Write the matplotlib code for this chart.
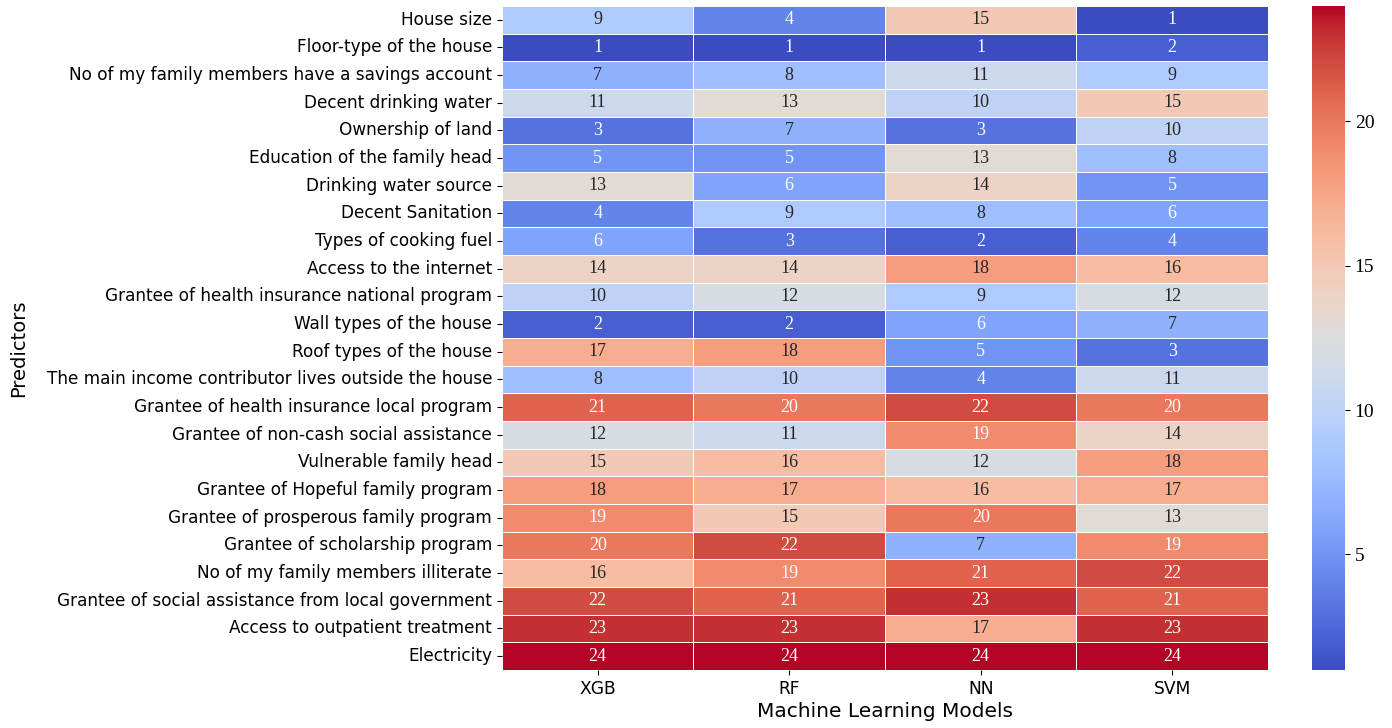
import matplotlib
matplotlib.use("Agg")
import matplotlib.pyplot as plt
import seaborn as sns
import pandas as pd

predictors = [
    "House size",
    "Floor-type of the house",
    "No of my family members have a savings account",
    "Decent drinking water",
    "Ownership of land",
    "Education of the family head",
    "Drinking water source",
    "Decent Sanitation",
    "Types of cooking fuel",
    "Access to the internet",
    "Grantee of health insurance national program",
    "Wall types of the house",
    "Roof types of the house",
    "The main income contributor lives outside the house",
    "Grantee of health insurance local program",
    "Grantee of non-cash social assistance",
    "Vulnerable family head",
    "Grantee of Hopeful family program",
    "Grantee of prosperous family program",
    "Grantee of scholarship program",
    "No of my family members illiterate",
    "Grantee of social assistance from local government",
    "Access to outpatient treatment",
    "Electricity",
]
models = ["XGB", "RF", "NN", "SVM"]

xgb = [9, 1, 7, 11, 3, 5, 13, 4, 6, 14, 10, 2, 17, 8, 21, 12, 15, 18, 19, 20, 16, 22, 23, 24]
rf = [4, 1, 8, 13, 7, 5, 6, 9, 3, 14, 12, 2, 18, 10, 20, 11, 16, 17, 15, 22, 19, 21, 23, 24]
nn = [15, 1, 11, 10, 3, 13, 14, 8, 2, 18, 9, 6, 5, 4, 22, 19, 12, 16, 20, 7, 21, 23, 17, 24]
svm = [1, 2, 9, 15, 10, 8, 5, 6, 4, 16, 12, 7, 3, 11, 20, 14, 18, 17, 13, 19, 22, 21, 23, 24]

df = pd.DataFrame({"XGB": xgb, "RF": rf, "NN": nn, "SVM": svm}, index=predictors)[models]

fig = plt.figure(figsize=(13.92, 7.28), dpi=100)
ax = fig.add_axes([0.3606, 0.0797, 0.5503, 0.9121])
cax = fig.add_axes([0.9425, 0.0797, 0.0237, 0.9121])

sns.heatmap(
    df, ax=ax, cbar_ax=cax, cmap="coolwarm", annot=True, fmt="d",
    linewidths=0.6, linecolor="white",
    annot_kws={"family": "Liberation Serif", "size": 13},
)

# rank labels: white on the saturated ends of the scale, dark elsewhere
for txt in ax.texts:
    v = int(txt.get_text())
    txt.set_color("white" if (v <= 6 or v >= 19) else "#262626")

ax.tick_params(axis="y", labelsize=12.2, rotation=0)
ax.tick_params(axis="x", labelsize=12.3, rotation=0)
ax.set_ylabel("Predictors", fontsize=14)
ax.yaxis.set_label_coords(-0.619, 0.485)
ax.set_xlabel("Machine Learning Models", fontsize=14.5, labelpad=3)

cax.set_yticks([5, 10, 15, 20])
cax.set_yticklabels(["5", "10", "15", "20"], family="Liberation Serif", fontsize=14)
cax.tick_params(length=3.5)

fig.savefig("out.png", dpi=100)
